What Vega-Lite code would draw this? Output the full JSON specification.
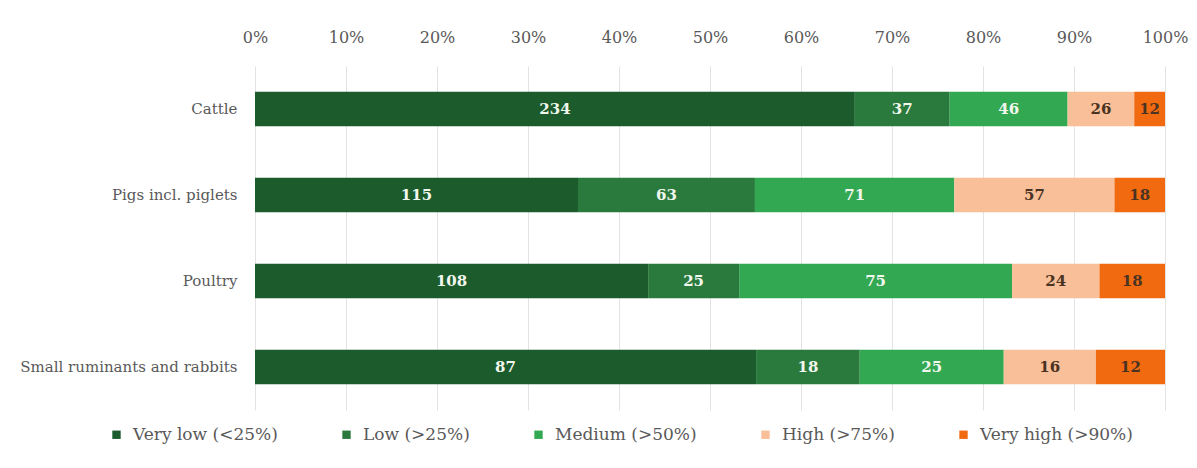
{
  "$schema": "https://vega.github.io/schema/vega-lite/v6.json",
  "autosize": {"type": "none"},
  "width": 910,
  "height": 344,
  "padding": {"left": 255, "top": 66, "right": 32, "bottom": 58},
  "background": "white",
  "config": {
    "view": {"stroke": null},
    "font": "DejaVu Serif"
  },
  "data": {
    "values": [
      {"category": "Cattle", "level": "Very low (<25%)", "order": 1, "count": 234},
      {"category": "Cattle", "level": "Low (>25%)", "order": 2, "count": 37},
      {"category": "Cattle", "level": "Medium (>50%)", "order": 3, "count": 46},
      {"category": "Cattle", "level": "High (>75%)", "order": 4, "count": 26},
      {"category": "Cattle", "level": "Very high (>90%)", "order": 5, "count": 12},
      {"category": "Pigs incl. piglets", "level": "Very low (<25%)", "order": 1, "count": 115},
      {"category": "Pigs incl. piglets", "level": "Low (>25%)", "order": 2, "count": 63},
      {"category": "Pigs incl. piglets", "level": "Medium (>50%)", "order": 3, "count": 71},
      {"category": "Pigs incl. piglets", "level": "High (>75%)", "order": 4, "count": 57},
      {"category": "Pigs incl. piglets", "level": "Very high (>90%)", "order": 5, "count": 18},
      {"category": "Poultry", "level": "Very low (<25%)", "order": 1, "count": 108},
      {"category": "Poultry", "level": "Low (>25%)", "order": 2, "count": 25},
      {"category": "Poultry", "level": "Medium (>50%)", "order": 3, "count": 75},
      {"category": "Poultry", "level": "High (>75%)", "order": 4, "count": 24},
      {"category": "Poultry", "level": "Very high (>90%)", "order": 5, "count": 18},
      {"category": "Small ruminants and rabbits", "level": "Very low (<25%)", "order": 1, "count": 87},
      {"category": "Small ruminants and rabbits", "level": "Low (>25%)", "order": 2, "count": 18},
      {"category": "Small ruminants and rabbits", "level": "Medium (>50%)", "order": 3, "count": 25},
      {"category": "Small ruminants and rabbits", "level": "High (>75%)", "order": 4, "count": 16},
      {"category": "Small ruminants and rabbits", "level": "Very high (>90%)", "order": 5, "count": 12}
    ]
  },
  "encoding": {
    "y": {
      "field": "category",
      "type": "nominal",
      "sort": ["Cattle", "Pigs incl. piglets", "Poultry", "Small ruminants and rabbits"],
      "scale": {"paddingInner": 0.6, "paddingOuter": 0.3},
      "axis": {
        "title": null,
        "domain": false,
        "ticks": false,
        "labelPadding": 18,
        "labelFontSize": 15,
        "labelColor": "#595959",
        "labelLimit": 300
      }
    },
    "order": {"field": "order", "type": "quantitative"}
  },
  "layer": [
    {
      "mark": {"type": "bar"},
      "encoding": {
        "x": {
          "field": "count",
          "type": "quantitative",
          "stack": "normalize",
          "scale": {"domain": [0, 1]},
          "axis": {
            "orient": "top",
            "title": null,
            "format": ".0%",
            "values": [0, 0.1, 0.2, 0.3, 0.4, 0.5, 0.6, 0.7, 0.8, 0.9, 1],
            "domain": false,
            "ticks": false,
            "labelFlush": false,
            "labelPadding": 21,
            "labelFontSize": 16,
            "labelColor": "#595959",
            "grid": true,
            "gridColor": "#e3e3e3",
            "gridWidth": 1
          }
        },
        "color": {
          "field": "level",
          "type": "nominal",
          "sort": ["Very low (<25%)", "Low (>25%)", "Medium (>50%)", "High (>75%)", "Very high (>90%)"],
          "scale": {
            "domain": ["Very low (<25%)", "Low (>25%)", "Medium (>50%)", "High (>75%)", "Very high (>90%)"],
            "range": ["#1b5b2c", "#2b7a3d", "#33a852", "#f9bf98", "#f26a10"]
          },
          "legend": {
            "title": null,
            "orient": "none",
            "direction": "horizontal",
            "legendX": -147,
            "legendY": 360,
            "symbolType": "square",
            "symbolSize": 70,
            "symbolStrokeWidth": 0,
            "labelFontSize": 17,
            "labelColor": "#595959",
            "labelOffset": 8,
            "columnPadding": 60,
            "labelLimit": 300
          }
        }
      }
    },
    {
      "mark": {"type": "text", "fontSize": 15, "fontWeight": "bold", "baseline": "middle", "align": "center"},
      "encoding": {
        "x": {
          "field": "count",
          "type": "quantitative",
          "stack": "normalize",
          "bandPosition": 0.5
        },
        "text": {"field": "count", "type": "quantitative"},
        "color": {
          "condition": {
            "test": "datum.order >= 4",
            "value": "#4a3322"
          },
          "value": "#f2f7ee"
        }
      }
    }
  ]
}
